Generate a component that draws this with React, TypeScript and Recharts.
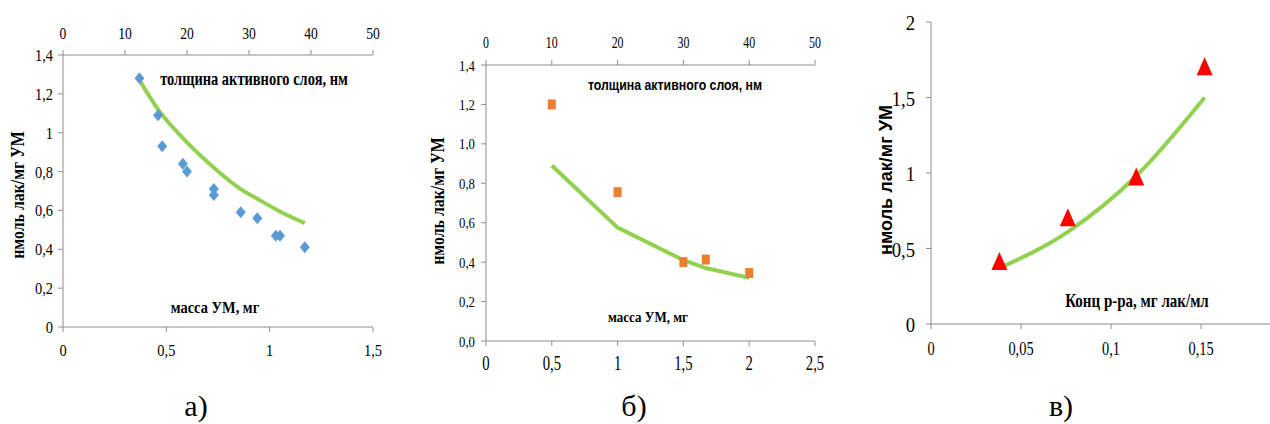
import React from "react";
import { ComposedChart, Scatter, Line, XAxis, YAxis } from "recharts";

// panel а) — activity vs mass of carbon material (top axis: active layer thickness)
const massA = [0.37, 0.46, 0.48, 0.58, 0.6, 0.73, 0.73, 0.86, 0.94, 1.03, 1.05, 1.17];
const thickA = [12.3, 15.3, 16, 19.3, 20, 24.3, 24.3, 28.7, 31.3, 34.3, 35, 39];
const actA = [1.28, 1.09, 0.93, 0.84, 0.8, 0.71, 0.68, 0.59, 0.56, 0.47, 0.47, 0.41];
const fitMassA = [0.37, 0.46, 0.6, 0.73, 0.86, 0.94, 1.04, 1.17];
const fitActA = [1.27, 1.12, 0.95, 0.82, 0.71, 0.66, 0.6, 0.535];

// panel б)
const massB = [0.5, 1, 1.5, 1.67, 2];
const thickB = [10, 20, 30, 33.4, 40];
const actB = [1.2, 0.755, 0.4, 0.413, 0.345];
const fitActB = [0.89, 0.575, 0.41, 0.37, 0.32];

// panel в) — activity vs solution concentration
const concC = [0.038, 0.076, 0.114, 0.152];
const actC = [0.41, 0.7, 0.97, 1.7];
const fitActC = [0.37, 0.61, 0.98, 1.5];

const thickTicks = [0, 10, 20, 30, 40, 50];
const yTicksAB = [0, 0.2, 0.4, 0.6, 0.8, 1, 1.2, 1.4];

const GREEN = "#92d050";
const AXIS = "#8c8c8c";
const INK = "#000";
const SERIF = '"Times New Roman", "Liberation Serif", Tinos, "DejaVu Serif", serif';
const SANS = 'Arial, "Liberation Sans", sans-serif';

const comma = (v: number) => String(v).replace(".", ",");
const comma1 = (v: number) => v.toFixed(1).replace(".", ",");

const pts = (xs: number[], ys: number[]) => xs.map((x, i) => ({ x, y: ys[i] }));

// tick text: the original picture is slightly squeezed horizontally, so scale x
const tickFn = (
  fmt: (v: number) => string,
  size: number,
  sx: number,
  side: "left" | "top" | "bottom",
  dx: number,
  dy: number
) =>
  (p: any) => (
    <text
      transform={`translate(${p.x + dx},${p.y + dy}) scale(${sx},1)`}
      textAnchor={side === "left" ? "end" : "middle"}
      fill={INK}
      fontSize={size}
      style={{ fontFamily: SERIF }}
    >
      {fmt(p.payload.value)}
    </text>
  );

const Nothing = () => <g />;

function Diamond({ cx, cy }: any) {
  return (
    <polygon
      points={`${cx},${cy - 6} ${cx + 5},${cy} ${cx},${cy + 6} ${cx - 5},${cy}`}
      fill="#5b9bd5"
    />
  );
}

function Square({ cx, cy }: any) {
  return <rect x={cx - 4} y={cy - 5} width={8} height={10} fill="#ed7d31" />;
}

function Triangle({ cx, cy }: any) {
  return (
    <polygon
      points={`${cx},${cy - 10} ${cx + 8},${cy + 8} ${cx - 8},${cy + 8}`}
      fill="#ff0000"
    />
  );
}

function Txt({ x, y, children, style, rotate, sx = 1 }: any) {
  return (
    <div
      style={{
        position: "absolute",
        left: x,
        top: y,
        transform: `translate(-50%, -50%)${rotate ? " rotate(-90deg)" : ""} scale(${sx},1)`,
        whiteSpace: "nowrap",
        color: INK,
        lineHeight: 1,
        ...style,
      }}
    >
      {children}
    </div>
  );
}

const lines = {
  axisLine: { stroke: AXIS },
  tickLine: { stroke: AXIS },
  tickSize: 5,
  tickMargin: 0,
  interval: 0 as const,
};

export default function App() {
  return (
    <div
      style={{
        position: "absolute",
        left: 0,
        top: 0,
        width: 1270,
        height: 424,
        background: "#fff",
        overflow: "hidden",
      }}
    >
      {/* а) */}
      <div style={{ position: "absolute", left: 0, top: 0 }}>
        <ComposedChart width={400} height={360} margin={{ top: 25, right: 27, bottom: 8, left: 23 }}>
          <XAxis
            dataKey="x"
            type="number"
            domain={[0, 1.5]}
            ticks={[0, 0.5, 1, 1.5]}
            height={25}
            tick={tickFn(comma, 17, 0.85, "bottom", 0, 23.5)}
            {...lines}
          />
          <XAxis
            xAxisId="top"
            dataKey="x"
            orientation="top"
            type="number"
            domain={[0, 50]}
            ticks={thickTicks}
            height={30}
            tick={tickFn(String, 17, 0.8, "top", 0, -11)}
            {...lines}
          />
          <YAxis
            type="number"
            domain={[0, 1.4]}
            ticks={yTicksAB}
            width={40}
            tick={tickFn(comma, 16, 0.9, "left", -5, 6)}
            {...lines}
          />
          <Scatter xAxisId="top" data={pts(thickA, actA)} dataKey="y" shape={Nothing} isAnimationActive={false} />
          <Line
            data={pts(fitMassA, fitActA)}
            dataKey="y"
            type="monotone"
            stroke={GREEN}
            strokeWidth={4}
            dot={false}
            isAnimationActive={false}
          />
          <Scatter data={pts(massA, actA)} dataKey="y" shape={<Diamond />} isAnimationActive={false} />
        </ComposedChart>
      </div>

      {/* б) */}
      <div style={{ position: "absolute", left: 420, top: 0 }}>
        <ComposedChart width={420} height={380} margin={{ top: 35, right: 25, bottom: 14, left: 26 }}>
          <XAxis
            dataKey="x"
            type="number"
            domain={[0, 2.5]}
            ticks={[0, 0.5, 1, 1.5, 2, 2.5]}
            height={25}
            tick={tickFn(comma, 21, 0.7, "bottom", 0, 24)}
            {...lines}
          />
          <XAxis
            xAxisId="top"
            dataKey="x"
            orientation="top"
            type="number"
            domain={[0, 50]}
            ticks={thickTicks}
            height={30}
            tick={tickFn(String, 17, 0.7, "top", 0, -12)}
            {...lines}
          />
          <YAxis
            type="number"
            domain={[0, 1.4]}
            ticks={yTicksAB}
            width={40}
            tick={tickFn(comma1, 15, 0.85, "left", -6, 5.5)}
            {...lines}
          />
          <Scatter xAxisId="top" data={pts(thickB, actB)} dataKey="y" shape={Nothing} isAnimationActive={false} />
          <Line
            data={pts(massB, fitActB)}
            dataKey="y"
            type="linear"
            stroke={GREEN}
            strokeWidth={4}
            dot={false}
            isAnimationActive={false}
          />
          <Scatter data={pts(massB, actB)} dataKey="y" shape={<Square />} isAnimationActive={false} />
        </ComposedChart>
      </div>

      {/* в) */}
      <div style={{ position: "absolute", left: 880, top: 0 }}>
        <ComposedChart width={390} height={380} margin={{ top: 22, right: 0, bottom: 26, left: 11 }}>
          <XAxis
            dataKey="x"
            type="number"
            domain={[0, 0.1883]}
            allowDataOverflow
            ticks={[0, 0.05, 0.1, 0.15]}
            height={30}
            tick={tickFn(comma, 18, 0.8, "bottom", 0, 25.5)}
            {...lines}
          />
          <YAxis
            type="number"
            domain={[0, 2]}
            ticks={[0, 0.5, 1, 1.5, 2]}
            width={40}
            tick={tickFn(comma, 22, 0.85, "left", -11, 8)}
            {...lines}
          />
          <Line
            data={pts(concC, fitActC)}
            dataKey="y"
            type="monotone"
            stroke={GREEN}
            strokeWidth={4}
            dot={false}
            isAnimationActive={false}
          />
          <Scatter data={pts(concC, actC)} dataKey="y" shape={<Triangle />} isAnimationActive={false} />
        </ComposedChart>
      </div>

      {/* titles */}
      <Txt x={18} y={195} rotate sx={0.88} style={{ fontFamily: SERIF, fontWeight: 700, fontSize: 18 }}>
        нмоль лак/мг УМ
      </Txt>
      <Txt x={254} y={78} sx={0.76} style={{ fontFamily: SERIF, fontWeight: 700, fontSize: 19 }}>
        толщина активного слоя, нм
      </Txt>
      <Txt x={215} y={308} sx={0.9} style={{ fontFamily: SERIF, fontWeight: 700, fontSize: 16 }}>
        масса УМ, мг
      </Txt>

      <Txt x={438} y={201} rotate sx={0.88} style={{ fontFamily: SERIF, fontWeight: 700, fontSize: 18 }}>
        нмоль лак/мг УМ
      </Txt>
      <Txt x={675} y={85} sx={0.88} style={{ fontFamily: SANS, fontWeight: 700, fontSize: 14 }}>
        толщина активного слоя, нм
      </Txt>
      <Txt x={648} y={317} sx={0.87} style={{ fontFamily: SERIF, fontWeight: 700, fontSize: 15 }}>
        масса УМ, мг
      </Txt>

      <Txt x={885} y={180} rotate sx={0.95} style={{ fontFamily: SANS, fontWeight: 700, fontSize: 19 }}>
        нмоль лак/мг УМ
      </Txt>
      <Txt x={1137} y={300} sx={0.79} style={{ fontFamily: SERIF, fontWeight: 700, fontSize: 19 }}>
        Конц р-ра, мг лак/мл
      </Txt>

      <Txt x={196} y={406} style={{ fontFamily: SERIF, fontSize: 30 }}>а)</Txt>
      <Txt x={634} y={406} style={{ fontFamily: SERIF, fontSize: 30 }}>б)</Txt>
      <Txt x={1061} y={406} style={{ fontFamily: SERIF, fontSize: 30 }}>в)</Txt>
    </div>
  );
}
